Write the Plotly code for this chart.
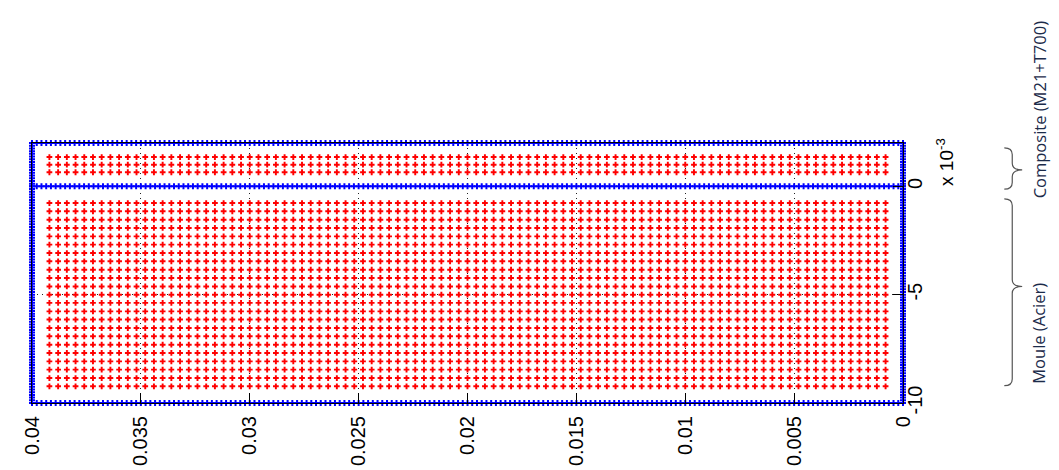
import numpy as np
import plotly.graph_objects as go

# axis ticks (metres)
length_ticks = [0, 0.005, 0.01, 0.015, 0.02, 0.025, 0.03, 0.035, 0.04]
length_labels = ['0', '0.005', '0.01', '0.015', '0.02', '0.025', '0.03', '0.035', '0.04']
thick_ticks = [-0.01, -0.005, 0]
thick_labels = ['-10', '-5', '0']

# interior nodes (red), thickness positions in mm
mould_rows_mm = [-0.77, -1.15, -1.54, -1.92, -2.31, -2.69, -3.08, -3.46, -3.85, -4.23, -4.62, -5.0,
                 -5.38, -5.77, -6.15, -6.54, -6.92, -7.31, -7.69, -8.08, -8.46, -8.85, -9.23]
composite_rows_mm = [0.65, 1.0, 1.35]
red_cols = np.linspace(0.0008, 0.0392, 97)          # mesh columns along the length

# boundary nodes (blue)
boundary_len = np.linspace(0, 0.04, 185)
boundary_thk = np.linspace(-0.01, 0.002, 97)
interface_lines = [-0.01, 0, 0.002]
side_lines = [0, 0.04]

W, H = 1059, 470
L, R, T, B = 18, 164, 135, 65

fig = go.Figure()

rows = [r / 1000 for r in mould_rows_mm + composite_rows_mm]
rx, ry = np.meshgrid(red_cols, rows)
fig.add_trace(go.Scatter(x=rx.ravel(), y=ry.ravel(), mode='markers',
                         marker=dict(symbol='cross', size=4.8, color='red', line=dict(width=0)),
                         cliponaxis=False, hoverinfo='skip'))

bx, by = [], []
for t in interface_lines:
    bx += list(boundary_len); by += [t] * len(boundary_len)
for s in side_lines:
    bx += [s] * len(boundary_thk); by += list(boundary_thk)
fig.add_trace(go.Scatter(x=bx, y=by, mode='markers',
                         marker=dict(symbol='cross', size=5, color='#0000ff', line=dict(width=0)),
                         cliponaxis=False, hoverinfo='skip'))

pw, ph = W - L - R, H - T - B


def px2paper(x, y):
    return (x - L) / pw, (H - B - y) / ph


def brace(y1, y2, ym, xe=997, xv=1005, xt=1015):
    pts = [(xe, y1), (xv, y1), (xv, y1 + 7), (xv, ym - 7), (xv, ym), (xt, ym), (xv, ym),
           (xv, ym + 7), (xv, y2 - 7), (xv, y2), (xe, y2)]
    p = [px2paper(*q) for q in pts]
    f = lambda q: '%.5f,%.5f' % q
    return ('M' + f(p[0]) + ' Q' + f(p[1]) + ' ' + f(p[2]) + ' L' + f(p[3]) +
            ' Q' + f(p[4]) + ' ' + f(p[5]) + ' Q' + f(p[6]) + ' ' + f(p[7]) +
            ' L' + f(p[8]) + ' Q' + f(p[9]) + ' ' + f(p[10]))


shapes = [dict(type='path', xref='paper', yref='paper', path=brace(140, 183, 163),
               line=dict(color='#555555', width=1.2)),
          dict(type='path', xref='paper', yref='paper', path=brace(193, 387, 284),
               line=dict(color='#555555', width=1.2))]

annotations = []
for txt, yc in [('Composite (M21+T700)', 101), ('Moule (Acier)', 333)]:
    ax_, ay_ = px2paper(1032, yc)
    annotations.append(dict(text=txt, x=ax_, y=ay_, xref='paper', yref='paper', showarrow=False,
                            textangle=-90, xanchor='center', yanchor='middle',
                            font=dict(family='Open Sans', size=16.5, color='#1c2b4a')))
ax_, ay_ = px2paper(938, 155)
annotations.append(dict(text='x 10<sup>-3</sup>', x=ax_, y=ay_, xref='paper', yref='paper',
                        showarrow=False, textangle=-90, xanchor='center', yanchor='middle',
                        font=dict(family='Liberation Sans', size=19, color='black')))

fig.update_layout(
    width=W, height=H, margin=dict(l=L, r=R, t=T, b=B),
    plot_bgcolor='white', paper_bgcolor='white', showlegend=False,
    shapes=shapes, annotations=annotations,
    font=dict(family='Liberation Sans', size=20, color='black'),
    xaxis=dict(range=[0.04, 0], tickvals=length_ticks, ticktext=length_labels, tickangle=-90,
               ticks='inside', ticklen=10, tickcolor='black', showline=True, linecolor='black',
               mirror=True, showgrid=True, gridcolor='#222222', griddash='1px,4px', gridwidth=1,
               zeroline=False, ticklabelstandoff=4),
    yaxis=dict(range=[-0.01, 0.002], tickvals=thick_ticks, ticktext=thick_labels, tickangle=-90,
               side='right', ticks='inside', ticklen=10, tickcolor='black', showline=True,
               linecolor='black', mirror=True, showgrid=True, gridcolor='#222222',
               griddash='1px,4px', gridwidth=1, zeroline=False, ticklabelstandoff=-6),
)

fig.write_html('out.html')
